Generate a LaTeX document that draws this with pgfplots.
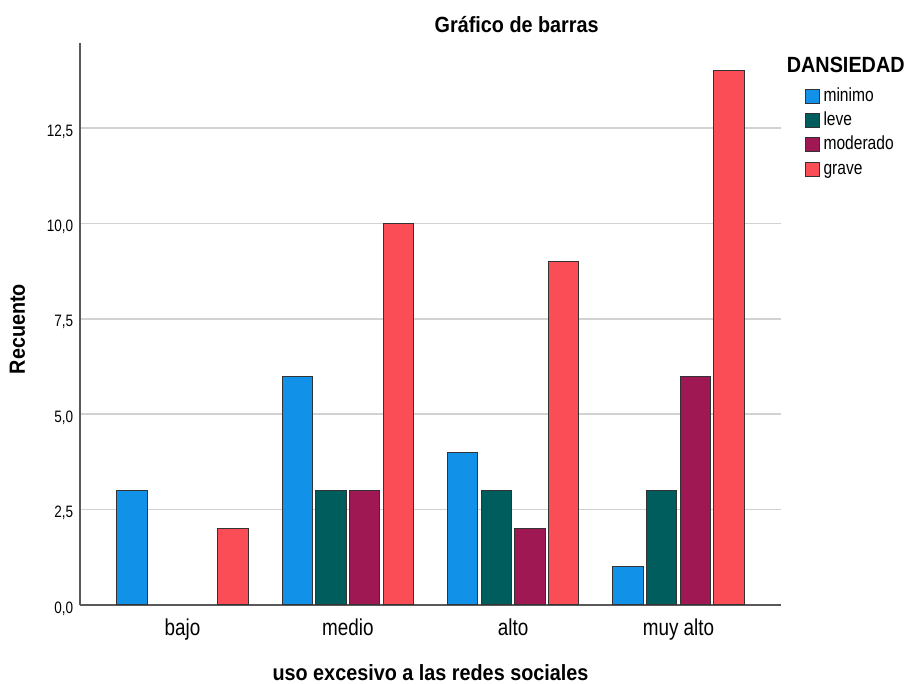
\documentclass[border=0pt]{standalone}
\usepackage{fontspec}
\setmainfont{Liberation Sans}
\newfontfamily\narrow[FakeStretch=0.82]{Liberation Sans}
\newfontfamily\boldf[FakeStretch=0.9]{Liberation Sans}
\usepackage{pgfplots}
\pgfplotsset{compat=1.18}
\definecolor{cminimo}{HTML}{1192E8}
\definecolor{cleve}{HTML}{005D5D}
\definecolor{cmoderado}{HTML}{9F1853}
\definecolor{cgrave}{HTML}{FA4D56}
\newcommand{\fs}[1]{\fontsize{#1}{#1}\selectfont}
\begin{document}
\begin{tikzpicture}
\useasboundingbox (0pt,0pt) rectangle (911pt,684pt);
\begin{axis}[
    at={(80pt,79pt)}, anchor=south west,
    scale only axis, width=701pt, height=562pt,
    ybar,
    bar width=0.1845,
    xmin=-0.62, xmax=3.62,
    ymin=0, ymax=14.73,
    axis x line*=bottom, axis y line*=left,
    axis line style={-, black!65, line width=1.2pt},
    xtick={0,1,2,3},
    xticklabels={bajo, medio, alto, muy alto},
    ytick={0,2.5,...,12.5},
    major tick length=0pt,
    tick style={draw=none},
    ymajorgrids,
    major grid style={gray!35, line width=1.6pt},
    /pgf/number format/.cd, use comma, fixed, fixed zerofill, precision=1,
        assume math mode=true,
    /pgfplots/.cd,
    xticklabel style={font=\narrow\fs{23}, inner sep=0pt, anchor=north, yshift=-14pt},
    yticklabel style={font=\narrow\fs{16.5}, inner sep=0pt, anchor=east, xshift=-6.7pt, yshift=-3.5pt},
    xlabel={uso excesivo a las redes sociales},
    xlabel style={font=\boldf\bfseries\fs{22}, at={(axis description cs:0.5,0)}, anchor=base, yshift=-76pt},
    ylabel={Recuento},
    ylabel style={font=\boldf\bfseries\fs{22}, at={(axis description cs:-0.0785,0.491)}, anchor=base, rotate=0},
    legend style={at={(axis description cs:1.034,0.919)}, anchor=north west,
        draw=none, fill=none, inner sep=0pt, row sep=7.8pt, column sep=3.5pt,
        nodes={inner sep=0pt, anchor=base west, text height=10pt, text depth=4pt},
        font=\narrow\fs{19}},
    legend cell align=left,
    legend image code/.code={\draw[#1, line width=1pt] (0pt,-2pt) rectangle (14pt,12pt);},
    every axis plot/.append style={draw=black!80, line width=1pt},
]
\addplot[fill=cminimo, bar shift=-0.305] coordinates {(0,3) (1,6) (2,4) (3,1)};
\addplot[fill=cleve, bar shift=-0.1015] coordinates {(1,3) (2,3) (3,3)};
\addplot[fill=cmoderado, bar shift=0.1015] coordinates {(1,3) (2,2) (3,6)};
\addplot[fill=cgrave, bar shift=0.305] coordinates {(0,2) (1,10) (2,9) (3,14)};
\legend{minimo, leve, moderado, grave}
\end{axis}
\node[font=\boldf\bfseries\fs{22}, anchor=base, inner sep=0pt] at (516.7pt,651.3pt) {Gráfico de barras};
\node[font=\boldf\bfseries\fs{22}, anchor=base west, inner sep=0pt] at (786.7pt,611.7pt) {DANSIEDAD};
\end{tikzpicture}
\end{document}
